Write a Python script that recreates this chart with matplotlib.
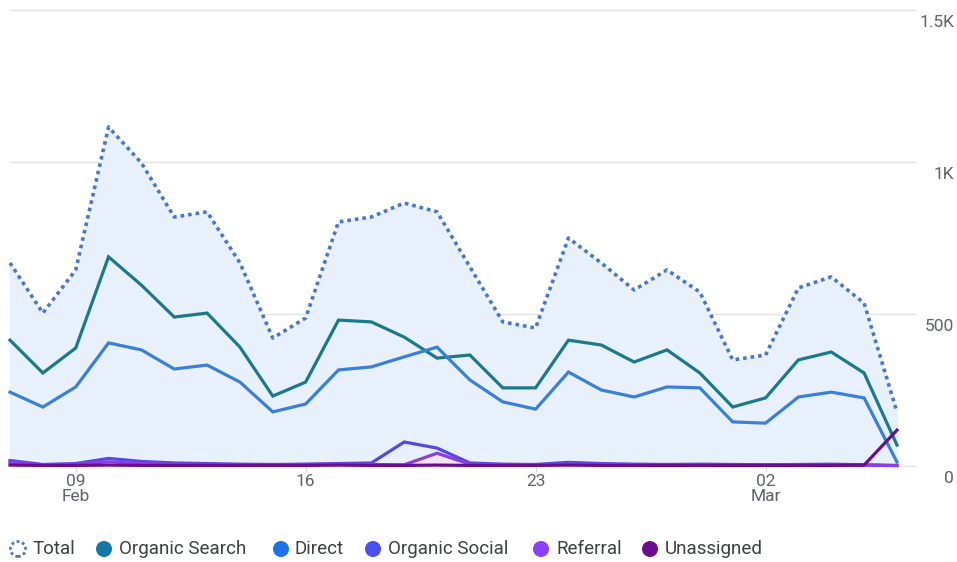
import matplotlib.pyplot as plt
import matplotlib.patches as mpatches
import matplotlib.transforms as mtransforms
import numpy as np

# dias: 07 fev a 06 mar
dias = np.arange(28)
rotulos_x = {2: "09\nFeb", 9: "16", 16: "23", 23: "02\nMar"}

total = [668, 503, 645, 1115, 997, 819, 836, 668, 421, 487,
         803, 819, 865, 836, 655, 474, 454, 750, 668, 579,
         645, 572, 349, 365, 586, 622, 536, 178]
organic_search = [414, 306, 388, 688, 595, 490, 503, 391, 230, 276,
                  480, 474, 424, 355, 365, 257, 257, 414, 398, 342,
                  382, 306, 194, 224, 349, 375, 306, 69]
direct = [243, 194, 260, 405, 382, 319, 332, 276, 178, 204,
          316, 326, 359, 391, 283, 211, 187, 309, 250, 227,
          260, 257, 145, 141, 227, 243, 224, 13]
organic_social = [18, 5, 8, 25, 15, 10, 8, 6, 5, 6,
                  8, 10, 79, 59, 10, 6, 5, 12, 8, 6,
                  5, 6, 5, 4, 5, 6, 4, 2]
referral = [12, 4, 5, 14, 8, 6, 5, 4, 4, 5,
            6, 5, 4, 42, 6, 4, 4, 6, 5, 4,
            3, 4, 3, 3, 4, 3, 3, 1]
unassigned = [3, 2, 2, 3, 2, 2, 2, 2, 2, 2,
              3, 2, 2, 3, 2, 2, 2, 3, 2, 2,
              2, 2, 2, 2, 2, 2, 3, 118]

ticks_y = [0, 500, 1000, 1500]
rotulos_y = ["0", "500", "1K", "1.5K"]

nomes = ["Total", "Organic Search", "Direct", "Organic Social", "Referral", "Unassigned"]
cores_linha = ["#4a78c8", "#1a7a8a", "#3a7fd8", "#5548e4", "#8a3fe0", "#6a0d8e"]
cores_legenda = ["#4a78c8", "#1577a8", "#1a73e8", "#4b4ef0", "#8a3ffc", "#6a0d91"]

plt.rcParams['font.family'] = ['Roboto', 'DejaVu Sans']

W, H = 957, 562
fig = plt.figure(figsize=(W / 100, H / 100), dpi=100)
ax = fig.add_axes([10 / W, (H - 466) / H, 905 / W, 456 / H])
ax.set_xlim(0, 905 / 32.85)
ax.set_ylim(0, 1500)
for s in ax.spines.values():
    s.set_visible(False)
ax.set_yticks([])
ax.set_xticks([])

# grade
for v in ticks_y:
    ax.axhline(v, color="#e3e3e3", lw=1, zorder=0, clip_on=False)

# área do total
ax.fill_between(dias, total, 0, color="#e8f0fc", zorder=1)
ax.fill_between(dias, referral, 0, color="#f5e4fa", zorder=1)

ax.plot(dias, total, color=cores_linha[0], lw=2.6, dashes=(1, 1.1), zorder=3, clip_on=False)
series = [organic_search, direct, organic_social, referral, unassigned]
for serie, cor in zip(series, cores_linha[1:]):
    ax.plot(dias, serie, color=cor, lw=2.3, zorder=4, clip_on=False, solid_joinstyle='miter')

# rótulos do eixo y à direita
trans = mtransforms.blended_transform_factory(fig.transFigure, ax.transData)
for v, r in zip(ticks_y, rotulos_y):
    ax.text(954 / W, v - 15, r, transform=trans, ha="right", va="top",
            fontsize=12.5, color="#5f6368")

# rótulos do eixo x
for k, r in rotulos_x.items():
    ax.plot([k, k], [0, -15], color="#dadce0", lw=1, clip_on=False, zorder=0)
    ax.text(k, -25, r, ha="center", va="top", fontsize=12.5,
            color="#5f6368", linespacing=1.05)

# legenda manual
pos_circ = [18, 104, 281, 373, 541, 650]
pos_txt = [33, 119, 295, 388, 556, 665]
y_leg = H - 549
for i, nome in enumerate(nomes):
    centro = (pos_circ[i] / 100, y_leg / 100)
    if i == 0:
        c = mpatches.Circle(centro, 0.075, transform=fig.dpi_scale_trans,
                            facecolor="white", edgecolor=cores_legenda[0],
                            linestyle=(0, (1, 1)), lw=2)
    else:
        c = mpatches.Circle(centro, 0.08, transform=fig.dpi_scale_trans,
                            facecolor=cores_legenda[i], edgecolor="none")
    fig.add_artist(c)
    fig.text(pos_txt[i] / W, y_leg / H, nome, ha="left", va="center",
             fontsize=13.5, color="#3c4043")

plt.savefig("out.png", dpi=100)
plt.close()
